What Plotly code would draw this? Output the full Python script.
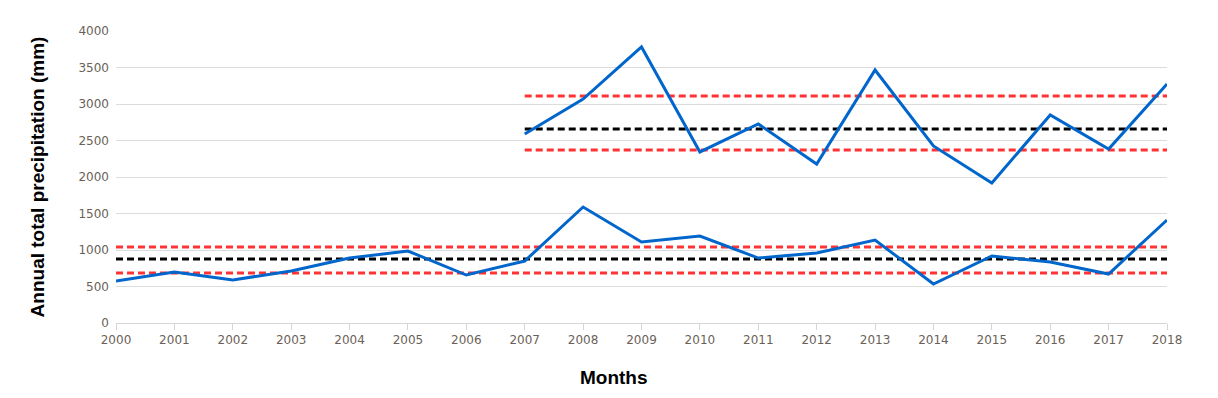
import plotly.graph_objects as go

years_low = list(range(2000, 2019))
precip_low = [575, 700, 590, 712, 890, 986, 657, 849, 1589, 1110, 1192, 890, 959, 1137, 534, 918, 836, 671, 1411]
years_high = list(range(2007, 2019))
precip_high = [2589, 3068, 3781, 2343, 2726, 2178, 3466, 2425, 1918, 2850, 2384, 3274]

low_mean = 877
low_lo, low_hi = 685, 1041
high_mean = 2658
high_lo, high_hi = 2370, 3110

tick_color = "#6b5f57"
fig = go.Figure()

def hline(x0, x1, y, color):
    fig.add_trace(go.Scatter(x=[x0, x1], y=[y, y], mode="lines",
                             line=dict(color=color, width=3, dash="7px,4px"),
                             hoverinfo="skip", showlegend=False))

for y, c in [(low_lo, "#ff3333"), (low_mean, "#000000"), (low_hi, "#ff3333")]:
    hline(years_low[0], years_low[-1], y, c)
for y, c in [(high_lo, "#ff3333"), (high_mean, "#000000"), (high_hi, "#ff3333")]:
    hline(years_high[0], years_high[-1], y, c)

fig.add_trace(go.Scatter(x=years_low, y=precip_low, mode="lines",
                         line=dict(color="#0066cc", width=3), showlegend=False))
fig.add_trace(go.Scatter(x=years_high, y=precip_high, mode="lines",
                         line=dict(color="#0066cc", width=3), showlegend=False))

title_font = dict(family="Liberation Sans", size=19, color="black", weight="bold")
fig.update_layout(
    width=1218, height=398,
    margin=dict(l=108, r=59, t=23, b=83),
    plot_bgcolor="white", paper_bgcolor="white",
    font=dict(family="DejaVu Sans", size=12, color=tick_color),
    annotations=[dict(text="Months", xref="paper", yref="paper", x=0.474, y=0,
                      yshift=-54, xanchor="center", yanchor="middle",
                      showarrow=False, font=title_font)],
)
fig.update_xaxes(range=[2000, 2018], tick0=2000, dtick=1, showgrid=False,
                 showline=True, linecolor="#d6d6d6", linewidth=1,
                 ticks="outside", ticklen=6, tickcolor="#d6d6d6",
                 tickfont=dict(size=12, color=tick_color),
                 zeroline=False)
fig.update_yaxes(range=[0, 4000], dtick=500, showgrid=True, gridcolor="#dcdcdc",
                 gridwidth=1, zeroline=False, ticks="", ticklabelstandoff=6,
                 tickfont=dict(size=12, color=tick_color),
                 title=dict(text="Annual total precipitation (mm)", standoff=28,
                            font=title_font))

fig.write_html("out.html")
